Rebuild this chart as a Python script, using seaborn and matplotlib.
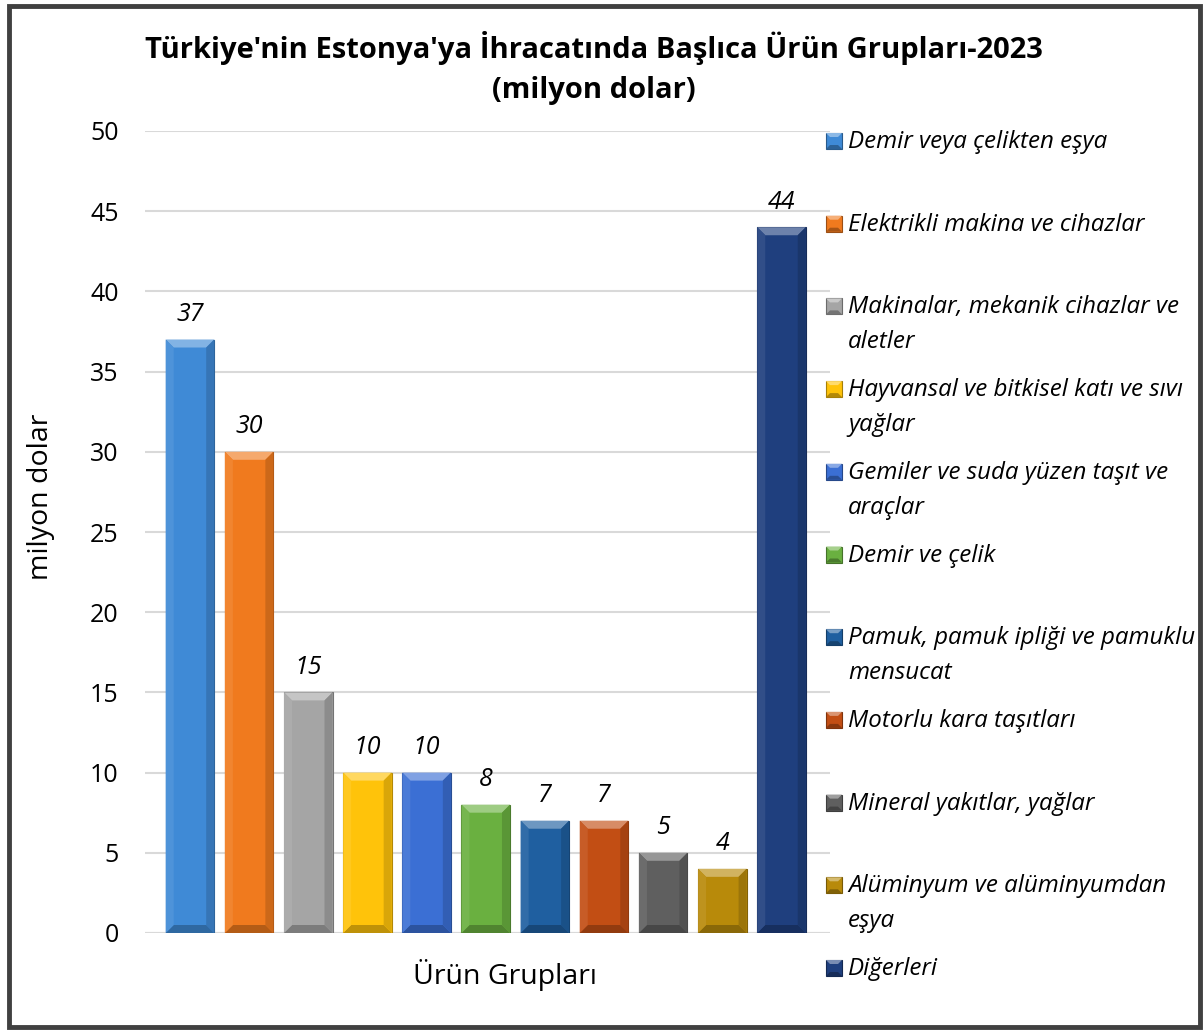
import numpy as np
import pandas as pd
import seaborn as sns
import matplotlib.pyplot as plt
from matplotlib.patches import Polygon, Rectangle
from matplotlib.colors import to_rgb

products = ["Demir veya çelikten eşya", "Elektrikli makina ve cihazlar",
            "Makinalar, mekanik cihazlar ve aletler",
            "Hayvansal ve bitkisel katı ve sıvı yağlar",
            "Gemiler ve suda yüzen taşıt ve araçlar", "Demir ve çelik",
            "Pamuk, pamuk ipliği ve pamuklu mensucat", "Motorlu kara taşıtları",
            "Mineral yakıtlar, yağlar", "Alüminyum ve alüminyumdan eşya", "Diğerleri"]
legend_labels = ["Demir veya çelikten eşya", "Elektrikli makina ve cihazlar",
                 "Makinalar, mekanik cihazlar ve\naletler",
                 "Hayvansal ve bitkisel katı ve sıvı\nyağlar",
                 "Gemiler ve suda yüzen taşıt ve\naraçlar", "Demir ve çelik",
                 "Pamuk, pamuk ipliği ve pamuklu\nmensucat", "Motorlu kara taşıtları",
                 "Mineral yakıtlar, yağlar", "Alüminyum ve alüminyumdan\neşya", "Diğerleri"]
values = [37, 30, 15, 10, 10, 8, 7, 7, 5, 4, 44]
colors = ["#3f8ad6", "#f07a1e", "#a5a5a5", "#ffc30a", "#3b6fd4", "#6ab040",
          "#1f5fa0", "#c24e14", "#5f5f5f", "#b88a0a", "#1f3f7e"]

df = pd.DataFrame({"product": products, "value": values})

sns.set_style("white")
plt.rcParams['font.family'] = ['Open Sans', 'DejaVu Sans']
plt.rcParams['text.color'] = 'black'
plt.rcParams['axes.labelcolor'] = 'black'
plt.rcParams['ytick.color'] = 'black'

W, H = 1204, 1030
fig = plt.figure(figsize=(W / 100, H / 100), dpi=100)
ax = fig.add_axes([145 / W, 1 - 933 / H, 685 / W, 802 / H])

sns.barplot(data=df, x="product", y="value", hue="product", palette=colors,
            dodge=False, legend=False, width=0.82, ax=ax, saturation=1)

ax.set_ylim(0, 50)
ax.set_xlim(-0.76, 10.82)
ax.set_yticks(range(0, 51, 5))
ax.yaxis.grid(True, color="#d9d9d9", linewidth=1.5)
ax.set_axisbelow(True)
for s in ax.spines.values():
    s.set_visible(False)
ax.axhline(0, color="#d9d9d9", linewidth=1.5, zorder=0.5)
ax.set_xticks([])
ax.tick_params(axis="y", labelsize=18, length=0, pad=19)
ax.set_ylabel("milyon dolar", fontsize=20.5)
ax.set_xlabel("Ürün Grupları", fontsize=20.5)
ax.yaxis.set_label_coords(-0.131, 0.544)
ax.xaxis.set_label_coords(0.526, -0.033)


def mix(c, other, t):
    c = np.array(to_rgb(c))
    return tuple(c * (1 - t) + np.array(other) * t)


# bevel effect on each bar
fig.canvas.draw()
px_per_y = ax.transData.transform((0, 1))[1] - ax.transData.transform((0, 0))[1]
px_per_x = ax.transData.transform((1, 0))[0] - ax.transData.transform((0, 0))[0]
bev = 8
for patch, col in zip(ax.patches, colors):
    x0, y0 = patch.get_x(), patch.get_y()
    w, h = patch.get_width(), patch.get_height()
    dx = bev / px_per_x
    dy = min(bev / px_per_y, h / 2)
    x1, y1 = x0 + w, y0 + h
    patch.set_edgecolor(mix(col, (0, 0, 0), 0.3))
    patch.set_linewidth(0.8)
    face = [
        ([(x0, y1), (x1, y1), (x1 - dx, y1 - dy), (x0 + dx, y1 - dy)], mix(col, (1, 1, 1), 0.35)),
        ([(x0, y0), (x1, y0), (x1 - dx, y0 + dy), (x0 + dx, y0 + dy)], mix(col, (0, 0, 0), 0.25)),
        ([(x0, y0), (x0, y1), (x0 + dx, y1 - dy), (x0 + dx, y0 + dy)], mix(col, (1, 1, 1), 0.08)),
        ([(x1, y0), (x1, y1), (x1 - dx, y1 - dy), (x1 - dx, y0 + dy)], mix(col, (0, 0, 0), 0.15)),
    ]
    for pts, fc in face:
        ax.add_patch(Polygon(pts, closed=True, facecolor=fc, edgecolor="none", zorder=3))

for container in ax.containers:
    ax.bar_label(container, fmt="%d", fontsize=18, style="italic", padding=9)

fig.suptitle("Türkiye'nin Estonya'ya İhracatında Başlıca Ürün Grupları-2023\n(milyon dolar)",
             x=0.493, y=0.970, fontsize=21, fontweight="bold", linespacing=1.5)

# legend on the right
ys = np.linspace(H - 141, H - 968, len(legend_labels))
for lab, col, yy in zip(legend_labels, colors, ys):
    mx0, mx1, my0, my1 = 826, 842, yy - 8, yy + 8
    fig.patches.append(Rectangle((mx0 / W, my0 / H), 16 / W, 16 / H,
                                 facecolor=col, edgecolor=mix(col, (0, 0, 0), 0.35),
                                 linewidth=0.8, transform=fig.transFigure, figure=fig))
    b = 4
    tri = [
        ([(mx0, my1), (mx1, my1), (mx1 - b, my1 - b), (mx0 + b, my1 - b)], mix(col, (1, 1, 1), 0.4)),
        ([(mx0, my0), (mx1, my0), (mx1 - b, my0 + b), (mx0 + b, my0 + b)], mix(col, (0, 0, 0), 0.3)),
    ]
    for pts, fc in tri:
        fig.patches.append(Polygon([(px / W, py / H) for px, py in pts], closed=True,
                                   facecolor=fc, edgecolor="none",
                                   transform=fig.transFigure, figure=fig))
    fig.text(848 / W, (yy + 11) / H, lab, fontsize=17.4, style="italic",
             va="top", ha="left", linespacing=1.6)

fig.patches.append(Rectangle((0.0075, 0.003), 0.9895, 0.9915, fill=False,
                             edgecolor="#404040", linewidth=3.5,
                             transform=fig.transFigure, figure=fig))

fig.savefig("out.png", dpi=100)
